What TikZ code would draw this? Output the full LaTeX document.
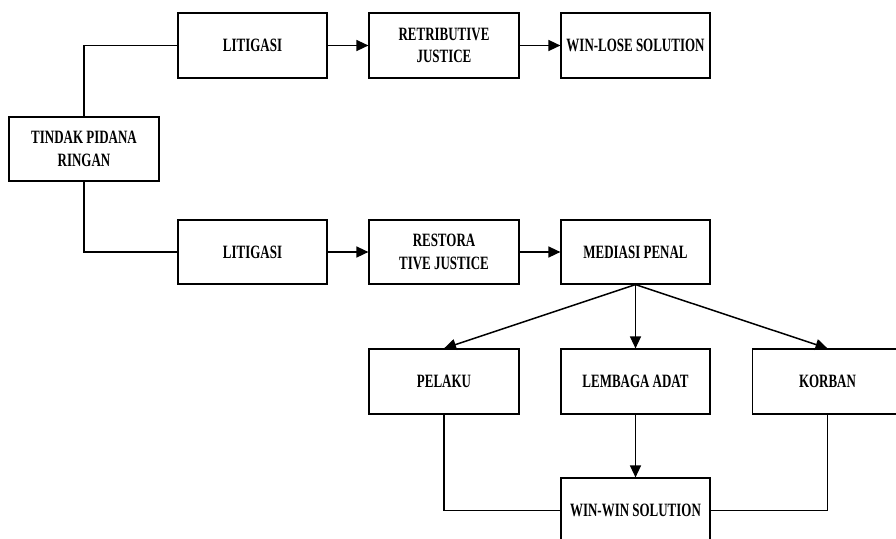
\documentclass[tikz,border=0pt]{standalone}
\usepackage{fontspec}
\setmainfont{Liberation Serif}[FakeStretch=0.69]
\usetikzlibrary{arrows.meta, positioning, calc}

\begin{document}
\begin{tikzpicture}[
    x=1pt, y=-1pt,
    flowbox/.style={draw, line width=1.2pt, fill=white, minimum width=150pt, minimum height=65pt, align=center, font=\fontsize{18.8}{22.3}\selectfont\bfseries},
    link/.style={line width=1.5pt},
    arrowlink/.style={link, -{Triangle[length=12pt,width=11pt]}}
]
    \clip (0,0) rectangle (896,538);
    \fill[white] (0,0) rectangle (896,538);

    % Start
    \node[flowbox, minimum height=64pt] (tindak) at (84,149) {TINDAK PIDANA\\RINGAN};

    % Upper branch
    \node[flowbox, minimum width=149pt] (litigasiA) at (252.5,45.5) {LITIGASI};
    \node[flowbox] (retributive) at (444,45.5) {RETRIBUTIVE\\JUSTICE};
    \node[flowbox, minimum width=149pt] (winlose) at (635.5,45.5) {WIN-LOSE SOLUTION};

    % Lower branch
    \node[flowbox, minimum width=149pt, minimum height=64pt] (litigasiB) at (252.5,252) {LITIGASI};
    \node[flowbox, minimum height=64pt] (restorative) at (444,252) {RESTORA\\TIVE JUSTICE};
    \node[flowbox, minimum width=149pt, minimum height=64pt] (mediasi) at (635.5,252) {MEDIASI PENAL};

    % Parties
    \node[flowbox] (pelaku) at (444,381.5) {PELAKU};
    \node[flowbox, minimum width=149pt] (lembaga) at (635.5,381.5) {LEMBAGA ADAT};
    \node[flowbox] (korban) at (827.5,381.5) {KORBAN};

    % Result
    \node[flowbox, minimum width=149pt] (winwin) at (635.5,510.5) {WIN-WIN SOLUTION};

    % Connectors
    \draw[link] (tindak.north) |- (litigasiA.west);
    \draw[link] (tindak.south) |- (litigasiB.west);
    \draw[arrowlink] (litigasiA) -- (retributive);
    \draw[arrowlink] (retributive) -- (winlose);
    \draw[arrowlink] (litigasiB) -- (restorative);
    \draw[arrowlink] (restorative) -- (mediasi);
    \draw[arrowlink] (mediasi.south) -- (pelaku.north);
    \draw[arrowlink] (mediasi.south) -- (lembaga.north);
    \draw[arrowlink] (mediasi.south) -- (korban.north);
    \draw[arrowlink] (lembaga) -- (winwin);
    \draw[link] (pelaku.south) |- (winwin.west);
    \draw[link] (korban.south) |- (winwin.east);
\end{tikzpicture}
\end{document}
